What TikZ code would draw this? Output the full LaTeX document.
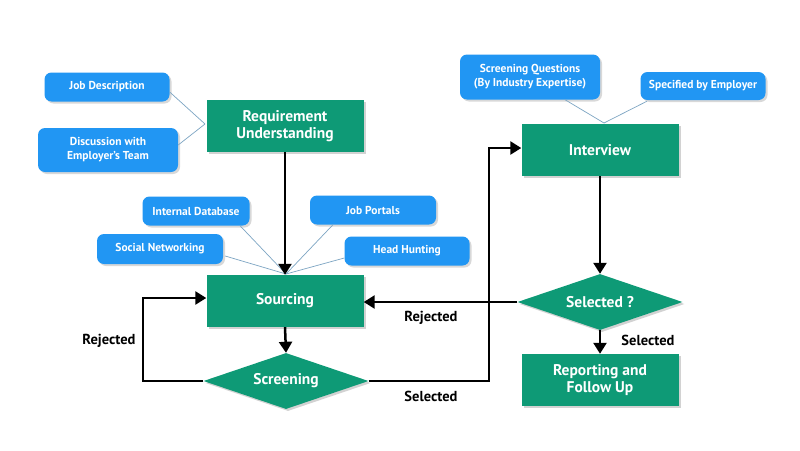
\documentclass[tikz,border=0pt]{standalone}
\usepackage{fontspec}
\setmainfont{PT Sans}
\usetikzlibrary{shapes.geometric,arrows.meta,shadows}
\definecolor{gbox}{RGB}{14,154,118}
\definecolor{bbox}{RGB}{33,150,243}
\definecolor{thin}{RGB}{125,165,195}
\tikzset{
  greenbox/.style={fill=gbox,draw=none,minimum width=157pt,minimum height=52pt,text=white,font=\fontsize{15.5}{17}\selectfont\bfseries,align=center,drop shadow={shadow xshift=2pt,shadow yshift=-2pt,opacity=0.35}},
  greendia/.style={diamond,fill=gbox,draw=none,aspect=3,minimum width=165pt,minimum height=56pt,inner sep=0pt,text=white,font=\fontsize{15.5}{17}\selectfont\bfseries,drop shadow={shadow xshift=2pt,shadow yshift=-2pt,opacity=0.35}},
  bluebox/.style={fill=bbox,draw=none,rounded corners=7pt,text=white,font=\fontsize{11.5}{14}\selectfont\bfseries,align=center,inner sep=0pt,drop shadow={shadow xshift=2pt,shadow yshift=-2pt,opacity=0.3}},
  thinline/.style={draw=thin,line width=0.7pt},
  flow/.style={draw=black,line width=2.5pt,-{Triangle[length=11pt,width=13pt]}},
  lbl/.style={font=\fontsize{14.5}{16}\selectfont\bfseries,text=black}
}
\begin{document}
\begin{tikzpicture}[x=1pt,y=-1pt]
\useasboundingbox (0,0) rectangle (800,450);
\fill[white] (0,0) rectangle (800,450);
% green boxes
\node[greenbox] (req) at (285,126) {Requirement\\Understanding};
\node[greenbox] (src) at (285,301) {Sourcing};
\node[greendia] (scr) at (286,381) {Screening};
\node[greenbox] (int) at (600,150) {Interview};
\node[greendia] (sel) at (600,302) {Selected ?};
\node[greenbox] (rep) at (600,380) {Reporting and\\Follow Up};
% blue boxes
\node[bluebox,minimum width=125pt,minimum height=29pt] (jd) at (107,87) {Job Description};
\node[bluebox,minimum width=140pt,minimum height=44pt] (disc) at (108,150) {Discussion with\\Employer’s Team};
\node[bluebox,minimum width=107pt,minimum height=29pt] (idb) at (196,211) {Internal Database};
\node[bluebox,minimum width=126pt,minimum height=29pt] (jp) at (373,210) {Job Portals};
\node[bluebox,minimum width=126pt,minimum height=30pt] (sn) at (160,249) {Social Networking};
\node[bluebox,minimum width=125pt,minimum height=29pt] (hh) at (407,251) {Head Hunting};
\node[bluebox,minimum width=140pt,minimum height=45pt] (sq) at (530,77) {Screening Questions\\(By Industry Expertise)};
\node[bluebox,minimum width=125pt,minimum height=28pt] (spe) at (703,86) {Specified by Employer};
% convergence points
\coordinate (reqL) at (205,124);
\coordinate (srcT) at (286,274);
\coordinate (intT) at (604,123);
% thin lines
\draw[thinline] (jd.east) ++(0,5) -- (reqL);
\draw[thinline] (disc.east) ++(0,-5) -- (reqL);
\draw[thinline] (idb.south) ++(44,0) -- (srcT);
\draw[thinline] (sn.east) ++(2,7) -- (srcT);
\draw[thinline] (jp.south) ++(-40,0) -- (srcT);
\draw[thinline] (hh.west) ++(0,7) -- (srcT);
\draw[thinline] (sq.south) ++(35,0) -- (intT);
\draw[thinline] (spe.south) ++(-56,1) -- (intT);
% flow arrows
\draw[flow] (req.south) -- (src.north);
\draw[flow] (src.south) -- (scr.north);
\draw[flow] (scr.west) -- (143,381) -- (143,298) -- (src.west |- 0,298);
\draw[flow] (scr.east) -- (489,381) -- (489,148) -- (int.west |- 0,148);
\draw[flow] (int.south) -- (sel.north);
\draw[flow] (sel.west) -- (src.east |- 0,302);
\draw[flow] (sel.south) -- (rep.north);
% labels
\node[lbl] (l1) at (109,341) {Rejected};
\node[lbl] (l2) at (431,318) {Rejected};
\node[lbl] (l3) at (431,396) {Selected};
\node[lbl] (l4) at (648,340) {Selected};
\end{tikzpicture}
\end{document}
